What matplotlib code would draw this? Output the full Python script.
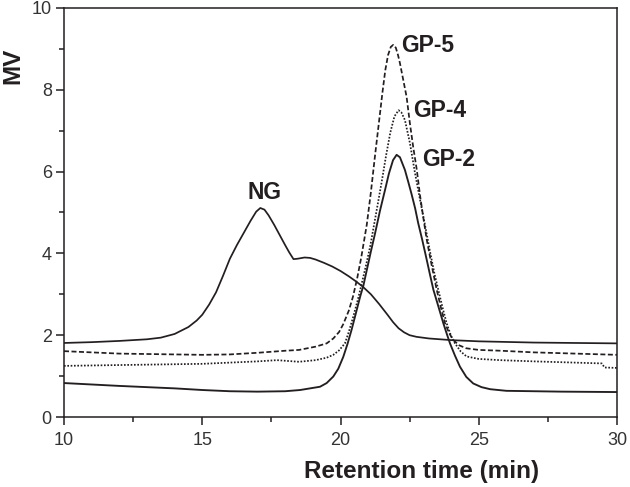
import matplotlib
matplotlib.use('Agg')
import matplotlib.pyplot as plt

plt.rcParams['font.family'] = ['Liberation Sans', 'DejaVu Sans']
plt.rcParams['lines.scale_dashes'] = False

# NG - native sample (solid, upper baseline)
ng_x = [10, 11, 12, 13, 13.5, 14, 14.5, 14.8, 15.0, 15.25, 15.5, 15.75, 16.0, 16.25, 16.5,
        16.75, 16.95, 17.1, 17.25, 17.4, 17.6, 17.8, 18.0, 18.15, 18.3, 18.45, 18.7, 18.9,
        19.1, 19.4, 19.7, 20.0, 20.3, 20.55, 20.8, 21.1, 21.4, 21.7, 21.9, 22.1, 22.3,
        22.5, 22.75, 23.2, 24, 25, 27, 30]
ng_y = [1.81, 1.83, 1.86, 1.90, 1.94, 2.03, 2.2, 2.36, 2.5, 2.75, 3.05, 3.45, 3.87, 4.2, 4.5,
        4.8, 5.02, 5.11, 5.07, 4.93, 4.7, 4.45, 4.2, 4.02, 3.86, 3.87, 3.9, 3.89,
        3.85, 3.77, 3.68, 3.57, 3.44, 3.32, 3.19, 3.0, 2.76, 2.5, 2.32, 2.17, 2.07,
        2.0, 1.96, 1.92, 1.88, 1.85, 1.82, 1.80]

# GP-5 (dashed)
gp5_x = [10, 11, 12, 13, 14, 15, 16, 17, 18, 18.5, 19.1, 19.5, 19.74, 19.95, 20.1, 20.3,
         20.45, 20.6, 20.75, 20.95, 21.1, 21.25, 21.4, 21.52, 21.62, 21.72, 21.82, 21.91,
         22.0, 22.08, 22.15, 22.27, 22.39, 22.51, 22.63, 22.76, 22.88, 23.0, 23.12, 23.3,
         23.48, 23.63, 23.78, 23.93, 24.08, 24.3, 24.55, 25, 25.8, 27, 28.5, 30]
gp5_y = [1.61, 1.58, 1.55, 1.54, 1.53, 1.52, 1.53, 1.57, 1.62, 1.64, 1.72, 1.8, 1.92, 2.08,
         2.27, 2.6, 2.94, 3.38, 3.9, 4.7, 5.5, 6.4, 7.26, 7.95, 8.48, 8.85, 9.05, 9.10,
         9.03, 8.85, 8.65, 8.24, 7.83, 7.18, 6.6, 6.04, 5.4, 4.85, 4.33, 3.7,
         3.11, 2.68, 2.29, 2.05, 1.88, 1.75, 1.68, 1.64, 1.62, 1.58, 1.55, 1.52]

# GP-4 (dotted)
gp4_x = [10, 12, 14, 15, 16, 17, 17.7, 18.5, 19.1, 19.5, 19.74, 19.95, 20.16, 20.3, 20.46,
         20.62, 20.77, 20.92, 21.07, 21.28, 21.49, 21.65, 21.8, 21.95, 22.1, 22.2, 22.33,
         22.51, 22.69, 22.88, 23.06, 23.25, 23.4, 23.54, 23.7, 23.84, 24.0, 24.14, 24.35,
         24.56, 25, 25.77, 27, 29.45, 29.55, 30]
gp4_y = [1.25, 1.27, 1.29, 1.30, 1.33, 1.36, 1.39, 1.35, 1.39, 1.45, 1.52, 1.63, 1.80, 2.08,
         2.45, 2.85, 3.27, 3.7, 4.16, 4.95, 5.75, 6.4, 6.95, 7.35, 7.5, 7.45, 7.26,
         6.7, 5.98, 5.3, 4.68, 4.0, 3.5, 3.1, 2.65, 2.29, 1.98, 1.80, 1.6,
         1.48, 1.42, 1.39, 1.36, 1.31, 1.21, 1.20]

# GP-2 (solid, lower baseline)
gp2_x = [10, 12, 14, 15, 16, 17, 18, 18.54, 19.26, 19.5, 19.74, 19.92, 20.1, 20.25, 20.4,
         20.55, 20.71, 20.83, 20.95, 21.1, 21.25, 21.43, 21.61, 21.75, 21.9, 22.03, 22.15,
         22.33, 22.45, 22.57, 22.7, 22.81, 22.95, 23.1, 23.23, 23.36, 23.55, 23.72, 23.85,
         23.96, 24.14, 24.32, 24.55, 24.8, 25.1, 25.41, 26, 28, 30]
gp2_y = [0.83, 0.76, 0.70, 0.66, 0.63, 0.62, 0.63, 0.66, 0.74, 0.83, 0.99, 1.18, 1.47, 1.78,
         2.13, 2.52, 2.94, 3.22, 3.59, 4.05, 4.49, 5.05, 5.55, 5.95, 6.28, 6.41, 6.35,
         6.04, 5.75, 5.45, 5.1, 4.74, 4.35, 3.9, 3.5, 3.11, 2.68, 2.29, 2.02,
         1.80, 1.5, 1.23, 0.98, 0.82, 0.73, 0.68, 0.64, 0.62, 0.61]

labels = ['NG', 'GP-5', 'GP-4', 'GP-2']
label_x = [16.62, 22.21, 22.63, 22.94]
label_y = [5.49, 9.08, 7.49, 6.30]

ink = '#231f20'

fig = plt.figure(figsize=(6.3, 4.87), dpi=100)
ax = fig.add_axes([64 / 630, 1 - 417 / 487, 553 / 630, 409 / 487])

ax.plot(ng_x, ng_y, color=ink, lw=1.25)
ax.plot(gp5_x, gp5_y, color=ink, lw=1.25, dashes=(3.6, 1.8))
ax.plot(gp4_x, gp4_y, color=ink, lw=1.25, dashes=(1.2, 1.2))
ax.plot(gp2_x, gp2_y, color=ink, lw=1.35)

for t, x, y in zip(labels, label_x, label_y):
    ax.text(x, y, t, fontsize=16.5, fontweight='bold', color=ink, ha='left', va='center')

ax.set_xlim(10, 30)
ax.set_ylim(0, 10)
ax.set_xticks([10, 15, 20, 25, 30])
ax.set_xticks([12.5, 17.5, 22.5, 27.5], minor=True)
ax.set_yticks([0, 2, 4, 6, 8, 10])
ax.set_yticks([1, 3, 5, 7, 9], minor=True)

for s in ax.spines.values():
    s.set_linewidth(1.1)
    s.set_color(ink)
ax.tick_params(which='major', length=5.8, width=1.1, color=ink, labelsize=13,
               labelcolor='#333333')
ax.tick_params(which='minor', length=3.6, width=1.1, color=ink)
ax.tick_params(axis='x', pad=5)
ax.tick_params(axis='y', pad=3)

ax.set_xlabel('Retention time (min)', fontsize=17.5, fontweight='bold', color=ink, va='center')
ax.xaxis.set_label_coords((422 - 64) / 553, (417 - 471.5) / 409)
ax.set_ylabel('MV', fontsize=17.5, fontweight='bold', color=ink, va='center')
ax.yaxis.set_label_coords((12.5 - 64) / 553, (417 - 66) / 409)

fig.savefig('out.png', dpi=100)
